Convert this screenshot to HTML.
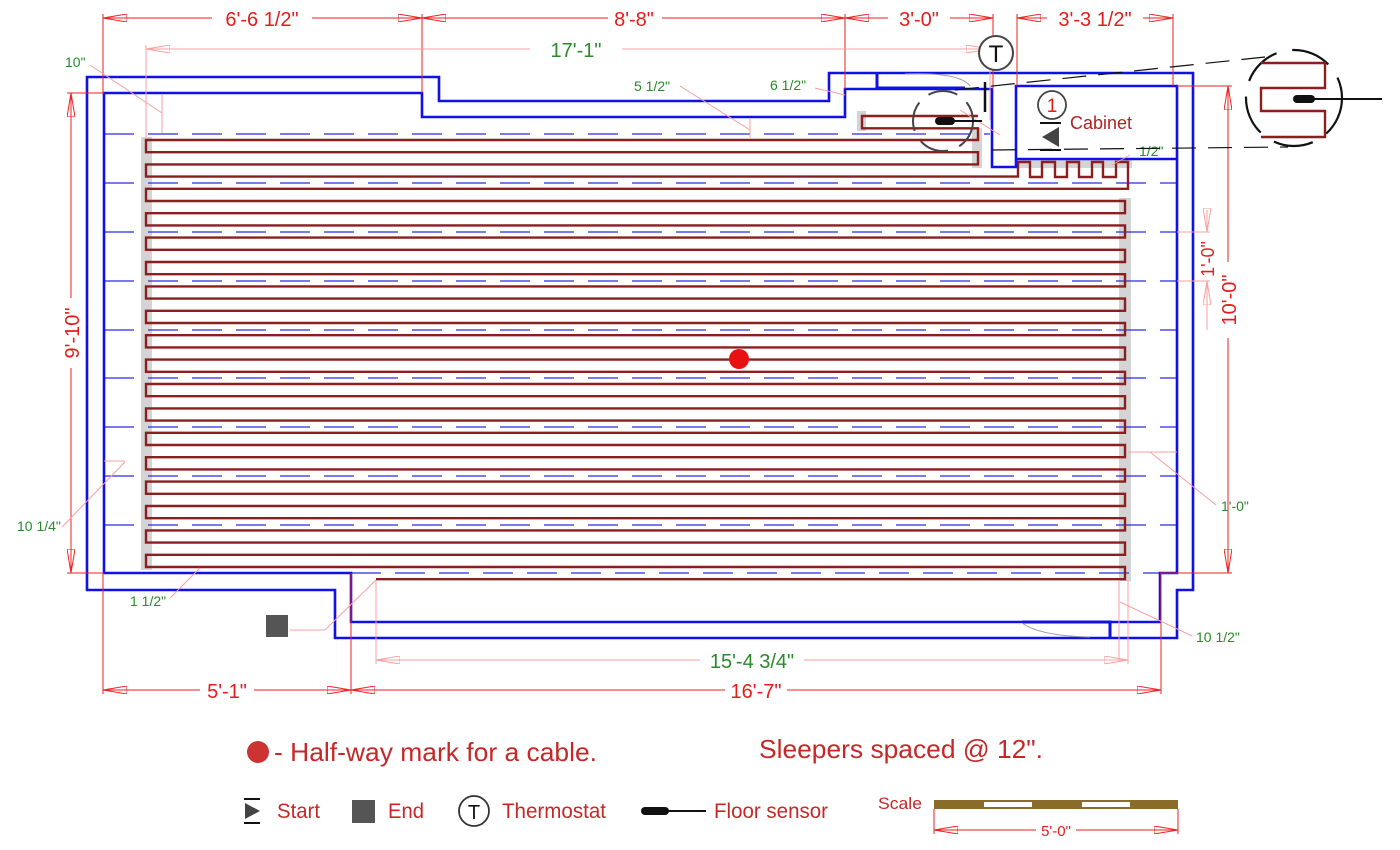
<!DOCTYPE html>
<html><head><meta charset="utf-8"><style>
html,body{margin:0;padding:0;background:#fff;}
svg{display:block;font-family:"Liberation Sans",sans-serif;}
</style></head><body>
<svg width="1400" height="850" viewBox="0 0 1400 850" xmlns="http://www.w3.org/2000/svg">
<defs>
<marker id="ar" viewBox="0 0 24 8" refX="24" refY="4" markerWidth="24" markerHeight="8" markerUnits="userSpaceOnUse" orient="auto-start-reverse">
<path d="M0,0 L24,4 L0,8 Z M0,0 V8" fill="none" stroke="#e22" stroke-width="1"/></marker>
<marker id="arp" viewBox="0 0 24 8" refX="24" refY="4" markerWidth="24" markerHeight="8" markerUnits="userSpaceOnUse" orient="auto-start-reverse">
<path d="M0,0 L24,4 L0,8 Z M0,0 V8" fill="none" stroke="#f8a0a0" stroke-width="1"/></marker>
</defs>

<g fill="#d4d4d4">
<rect x="141" y="137" width="11" height="433"/>
<rect x="1119" y="198" width="12" height="383"/>
<rect x="1016" y="158" width="116" height="10"/>
<rect x="857" y="111" width="9" height="20"/>
<rect x="972" y="128" width="10" height="40"/>
</g>

<g stroke="#2a2ae0" stroke-width="1.3" stroke-dasharray="30,14" fill="none">
<line x1="104" y1="134" x2="990" y2="134"/>
<line x1="104" y1="183" x2="1177" y2="183"/>
<line x1="104" y1="232" x2="1177" y2="232"/>
<line x1="104" y1="281" x2="1177" y2="281"/>
<line x1="104" y1="330" x2="1177" y2="330"/>
<line x1="104" y1="378" x2="1177" y2="378"/>
<line x1="104" y1="427" x2="1177" y2="427"/>
<line x1="104" y1="476" x2="1177" y2="476"/>
<line x1="104" y1="525" x2="1177" y2="525"/>
<line x1="351" y1="573" x2="1160" y2="573"/>
</g>

<path d="M978 116 H862 V128.3 H978 V140 H146 V152.2 H978 V164.4 H146 V176.6 H1018 V162 H1030 V177 H1042 V162 H1055 V177 H1067 V162 H1079 V177 H1092 V162 H1103 V177 H1116 V162 H1128 V188.8 H146 V201 H1125 V213.2 H146 V225.4 H1125 V237.6 H146 V249.8 H1125 V262 H146 V274.2 H1125 V286.4 H146 V298.6 H1125 V310.8 H146 V323 H1125 V335.2 H146 V347.4 H1125 V359.6 H146 V371.8 H1125 V384 H146 V396.2 H1125 V408.4 H146 V420.6 H1125 V432.8 H146 V445 H1125 V457.2 H146 V469.4 H1125 V481.6 H146 V493.8 H1125 V506 H146 V518.2 H1125 V530.4 H146 V542.6 H1125 V554.8 H146 V567 H1125 V579.2 H376" fill="none" stroke="#8b1f1f" stroke-width="2.4"/>

<g stroke="#1010e8" stroke-width="2.6" fill="none">
<path d="M87 590 V77 H439 V101 H829 V73 H1193 V590 H1177 V638 H335 V590 Z"/>
<path d="M104 573 V93 H422 V117 H845 V89 H992 V167 H1016 V86 H1177 V573 H1160 V622 H351 V573 Z"/>
<line x1="1016" y1="159" x2="1177" y2="159"/>
<path d="M877 73 V88 H965" stroke-width="3"/>
<path d="M1022 622 H1110 V638" stroke-width="3"/>
</g>
<path d="M1022 623 Q1040 636 1090 637" stroke="#99a" stroke-width="1" fill="none"/>
<path d="M905 74 Q960 72 970 86" stroke="#99a" stroke-width="1" fill="none"/>

<g stroke="#e22" stroke-width="1" fill="none">
<line x1="103" y1="18" x2="422" y2="18" marker-start="url(#ar)" marker-end="url(#ar)"/>
<line x1="422" y1="18" x2="845" y2="18" marker-start="url(#ar)" marker-end="url(#ar)"/>
<line x1="845" y1="18" x2="993" y2="18" marker-start="url(#ar)" marker-end="url(#ar)"/>
<line x1="1017" y1="18" x2="1173" y2="18" marker-start="url(#ar)" marker-end="url(#ar)"/>
<line x1="103" y1="14" x2="103" y2="93"/><line x1="422" y1="14" x2="422" y2="93"/>
<line x1="845" y1="14" x2="845" y2="89"/><line x1="993" y1="14" x2="993" y2="89"/>
<line x1="1017" y1="14" x2="1017" y2="86"/><line x1="1173" y1="14" x2="1173" y2="86"/>
<line x1="71" y1="93" x2="71" y2="573" marker-start="url(#ar)" marker-end="url(#ar)"/>
<line x1="67" y1="93" x2="104" y2="93"/><line x1="67" y1="573" x2="104" y2="573"/>
<line x1="1228" y1="86" x2="1228" y2="573" marker-start="url(#ar)" marker-end="url(#ar)"/>
<line x1="1177" y1="86" x2="1232" y2="86"/><line x1="1160" y1="573" x2="1232" y2="573"/>
<line x1="103" y1="690" x2="351" y2="690" marker-start="url(#ar)" marker-end="url(#ar)"/>
<line x1="351" y1="690" x2="1161" y2="690" marker-start="url(#ar)" marker-end="url(#ar)"/>
<line x1="103" y1="573" x2="103" y2="694"/><line x1="351" y1="573" x2="351" y2="694"/>
<line x1="1161" y1="573" x2="1161" y2="694"/>
</g>
<g stroke="#f8a0a0" stroke-width="1" fill="none">
<line x1="146" y1="49" x2="990" y2="49" marker-start="url(#arp)" marker-end="url(#arp)"/>
<line x1="146" y1="45" x2="146" y2="137"/><line x1="990" y1="45" x2="990" y2="120"/>
<line x1="376" y1="660" x2="1128" y2="660" marker-start="url(#arp)" marker-end="url(#arp)"/>
<line x1="376" y1="580" x2="376" y2="664"/><line x1="1128" y1="580" x2="1128" y2="664"/>
<line x1="1207" y1="210" x2="1207" y2="232" marker-end="url(#arp)"/>
<line x1="1207" y1="330" x2="1207" y2="281" marker-end="url(#arp)"/>
<line x1="1177" y1="281" x2="1210" y2="281"/>
<line x1="1177" y1="232" x2="1210" y2="232"/>
<line x1="90" y1="65" x2="162" y2="113"/><line x1="162" y1="94" x2="162" y2="133"/>
<line x1="680" y1="86" x2="750" y2="130"/><line x1="750" y1="118" x2="750" y2="138"/>
<line x1="815" y1="88" x2="845" y2="95"/>
<line x1="62" y1="527" x2="125" y2="462"/><line x1="104" y1="461" x2="125" y2="461"/>
<line x1="170" y1="598" x2="200" y2="568"/>
<line x1="1216" y1="505" x2="1150" y2="452"/><line x1="1128" y1="452" x2="1177" y2="452"/>
<line x1="1192" y1="636" x2="1120" y2="602"/><line x1="1119" y1="580" x2="1119" y2="660"/>
<line x1="1130" y1="155" x2="1112" y2="165"/>
<line x1="290" y1="630" x2="325" y2="630"/><line x1="325" y1="630" x2="376" y2="580"/>
<line x1="960" y1="110" x2="1000" y2="135"/>
</g>

<g fill="#e41c1c" font-size="20" text-anchor="middle">
<rect x="212" y="6" width="100" height="24" fill="#fff"/><text x="262" y="26">6'-6 1/2"</text>
<rect x="608" y="6" width="54" height="24" fill="#fff"/><text x="634" y="26">8'-8"</text>
<rect x="888" y="6" width="62" height="24" fill="#fff"/><text x="919" y="26">3'-0"</text>
<rect x="1047" y="6" width="96" height="24" fill="#fff"/><text x="1095" y="26">3'-3 1/2"</text>
<rect x="200" y="678" width="54" height="24" fill="#fff"/><text x="227" y="698">5'-1"</text>
<rect x="725" y="678" width="62" height="24" fill="#fff"/><text x="756" y="698">16'-7"</text>
<rect x="58" y="298" width="26" height="70" fill="#fff"/><text transform="translate(79,333) rotate(-90)">9'-10"</text>
<rect x="1215" y="262" width="26" height="76" fill="#fff"/><text transform="translate(1236,300) rotate(-90)">10'-0"</text>
<rect x="1196" y="238" width="22" height="42" fill="#fff"/><text transform="translate(1214,259) rotate(-90)" font-size="18">1'-0"</text>
</g>
<g fill="#2a8a2a" font-size="14">
<rect x="530" y="40" width="92" height="20" fill="#fff"/>
<text x="576" y="57" font-size="20" text-anchor="middle">17'-1"</text>
<rect x="700" y="648" width="104" height="22" fill="#fff"/>
<text x="752" y="668" font-size="20" text-anchor="middle">15'-4 3/4"</text>
<text x="65" y="67">10"</text>
<text x="634" y="91">5 1/2"</text>
<text x="770" y="90">6 1/2"</text>
<text x="1139" y="156">1/2"</text>
<text x="1221" y="511">1'-0"</text>
<text x="17" y="531">10 1/4"</text>
<text x="130" y="606">1 1/2"</text>
<text x="1196" y="642">10 1/2"</text>
</g>

<circle cx="996" cy="53" r="17" fill="#fff" stroke="#444" stroke-width="2"/>
<text x="996" y="62" font-size="24" text-anchor="middle" fill="#111">T</text>
<line x1="985" y1="82" x2="985" y2="112" stroke="#111" stroke-width="2.5"/>

<circle cx="943" cy="121" r="30" fill="none" stroke="#444" stroke-width="2" stroke-dasharray="30,12"/>
<line x1="950" y1="121" x2="982" y2="121" stroke="#111" stroke-width="2"/>
<rect x="935" y="117" width="20" height="8" rx="4" fill="#111"/>

<g stroke="#111" stroke-width="1.2" stroke-dasharray="24,12" fill="none">
<line x1="955" y1="90" x2="1265" y2="57"/>
<line x1="992" y1="150" x2="1288" y2="147"/>
</g>

<circle cx="1294" cy="98" r="48" fill="none" stroke="#111" stroke-width="2.2" stroke-dasharray="40,16"/>
<path d="M1261 63 H1325 V88 H1261 V111 H1325 V137 H1261" fill="none" stroke="#8b1f1f" stroke-width="2.4"/>
<line x1="1305" y1="99" x2="1382" y2="99" stroke="#111" stroke-width="2"/>
<rect x="1293" y="95" width="22" height="8" rx="4" fill="#111"/>

<circle cx="1052" cy="105" r="14" fill="#fff" stroke="#444" stroke-width="1.8"/>
<text x="1052" y="112" font-size="19" text-anchor="middle" fill="#e41c1c">1</text>
<line x1="1040" y1="123" x2="1061" y2="123" stroke="#111" stroke-width="2"/>
<polygon points="1059,127 1059,147 1042,137" fill="#444"/>
<line x1="1040" y1="150" x2="1061" y2="150" stroke="#111" stroke-width="2"/>
<text x="1070" y="129" font-size="18" fill="#b22222">Cabinet</text>

<circle cx="739" cy="359" r="10" fill="#e81010"/>
<rect x="266" y="615" width="22" height="22" fill="#555"/>

<circle cx="258" cy="752" r="11" fill="#cc3333"/>
<text x="274" y="761" font-size="26" fill="#c62828" textLength="323" lengthAdjust="spacingAndGlyphs">- Half-way mark for a cable.</text>
<text x="759" y="758" font-size="26" fill="#c62828" textLength="284" lengthAdjust="spacingAndGlyphs">Sleepers spaced @ 12".</text>
<line x1="244" y1="799" x2="260" y2="799" stroke="#111" stroke-width="2"/>
<polygon points="245,803 245,819 260,811" fill="#444"/>
<line x1="244" y1="823" x2="260" y2="823" stroke="#111" stroke-width="2"/>
<text x="277" y="818" font-size="21" fill="#c62828" textLength="43" lengthAdjust="spacingAndGlyphs">Start</text>
<rect x="352" y="800" width="23" height="23" fill="#555"/>
<text x="388" y="818" font-size="21" fill="#c62828" textLength="36" lengthAdjust="spacingAndGlyphs">End</text>
<circle cx="474" cy="811" r="15" fill="none" stroke="#333" stroke-width="1.8"/>
<text x="474" y="819" font-size="20" text-anchor="middle" fill="#111">T</text>
<text x="502" y="818" font-size="21" fill="#c62828" textLength="104" lengthAdjust="spacingAndGlyphs">Thermostat</text>
<rect x="641" y="807" width="28" height="8" rx="4" fill="#111"/>
<line x1="665" y1="811" x2="706" y2="811" stroke="#111" stroke-width="2"/>
<text x="714" y="818" font-size="21" fill="#c62828" textLength="114" lengthAdjust="spacingAndGlyphs">Floor sensor</text>
<text x="878" y="809" font-size="17" fill="#c62828" textLength="44" lengthAdjust="spacingAndGlyphs">Scale</text>
<rect x="934" y="800" width="244" height="9" fill="#8b6b2a"/>
<rect x="984" y="802" width="48" height="5" fill="#fff"/>
<rect x="1082" y="802" width="48" height="5" fill="#fff"/>
<g stroke="#e22" stroke-width="1" fill="none">
<line x1="934" y1="809" x2="934" y2="834"/><line x1="1178" y1="809" x2="1178" y2="834"/>
<line x1="934" y1="830" x2="1178" y2="830" marker-start="url(#ar)" marker-end="url(#ar)"/>
</g>
<rect x="1036" y="820" width="40" height="18" fill="#fff"/>
<text x="1056" y="836" font-size="15" text-anchor="middle" fill="#e41c1c">5'-0"</text>
</svg>
</body></html>
